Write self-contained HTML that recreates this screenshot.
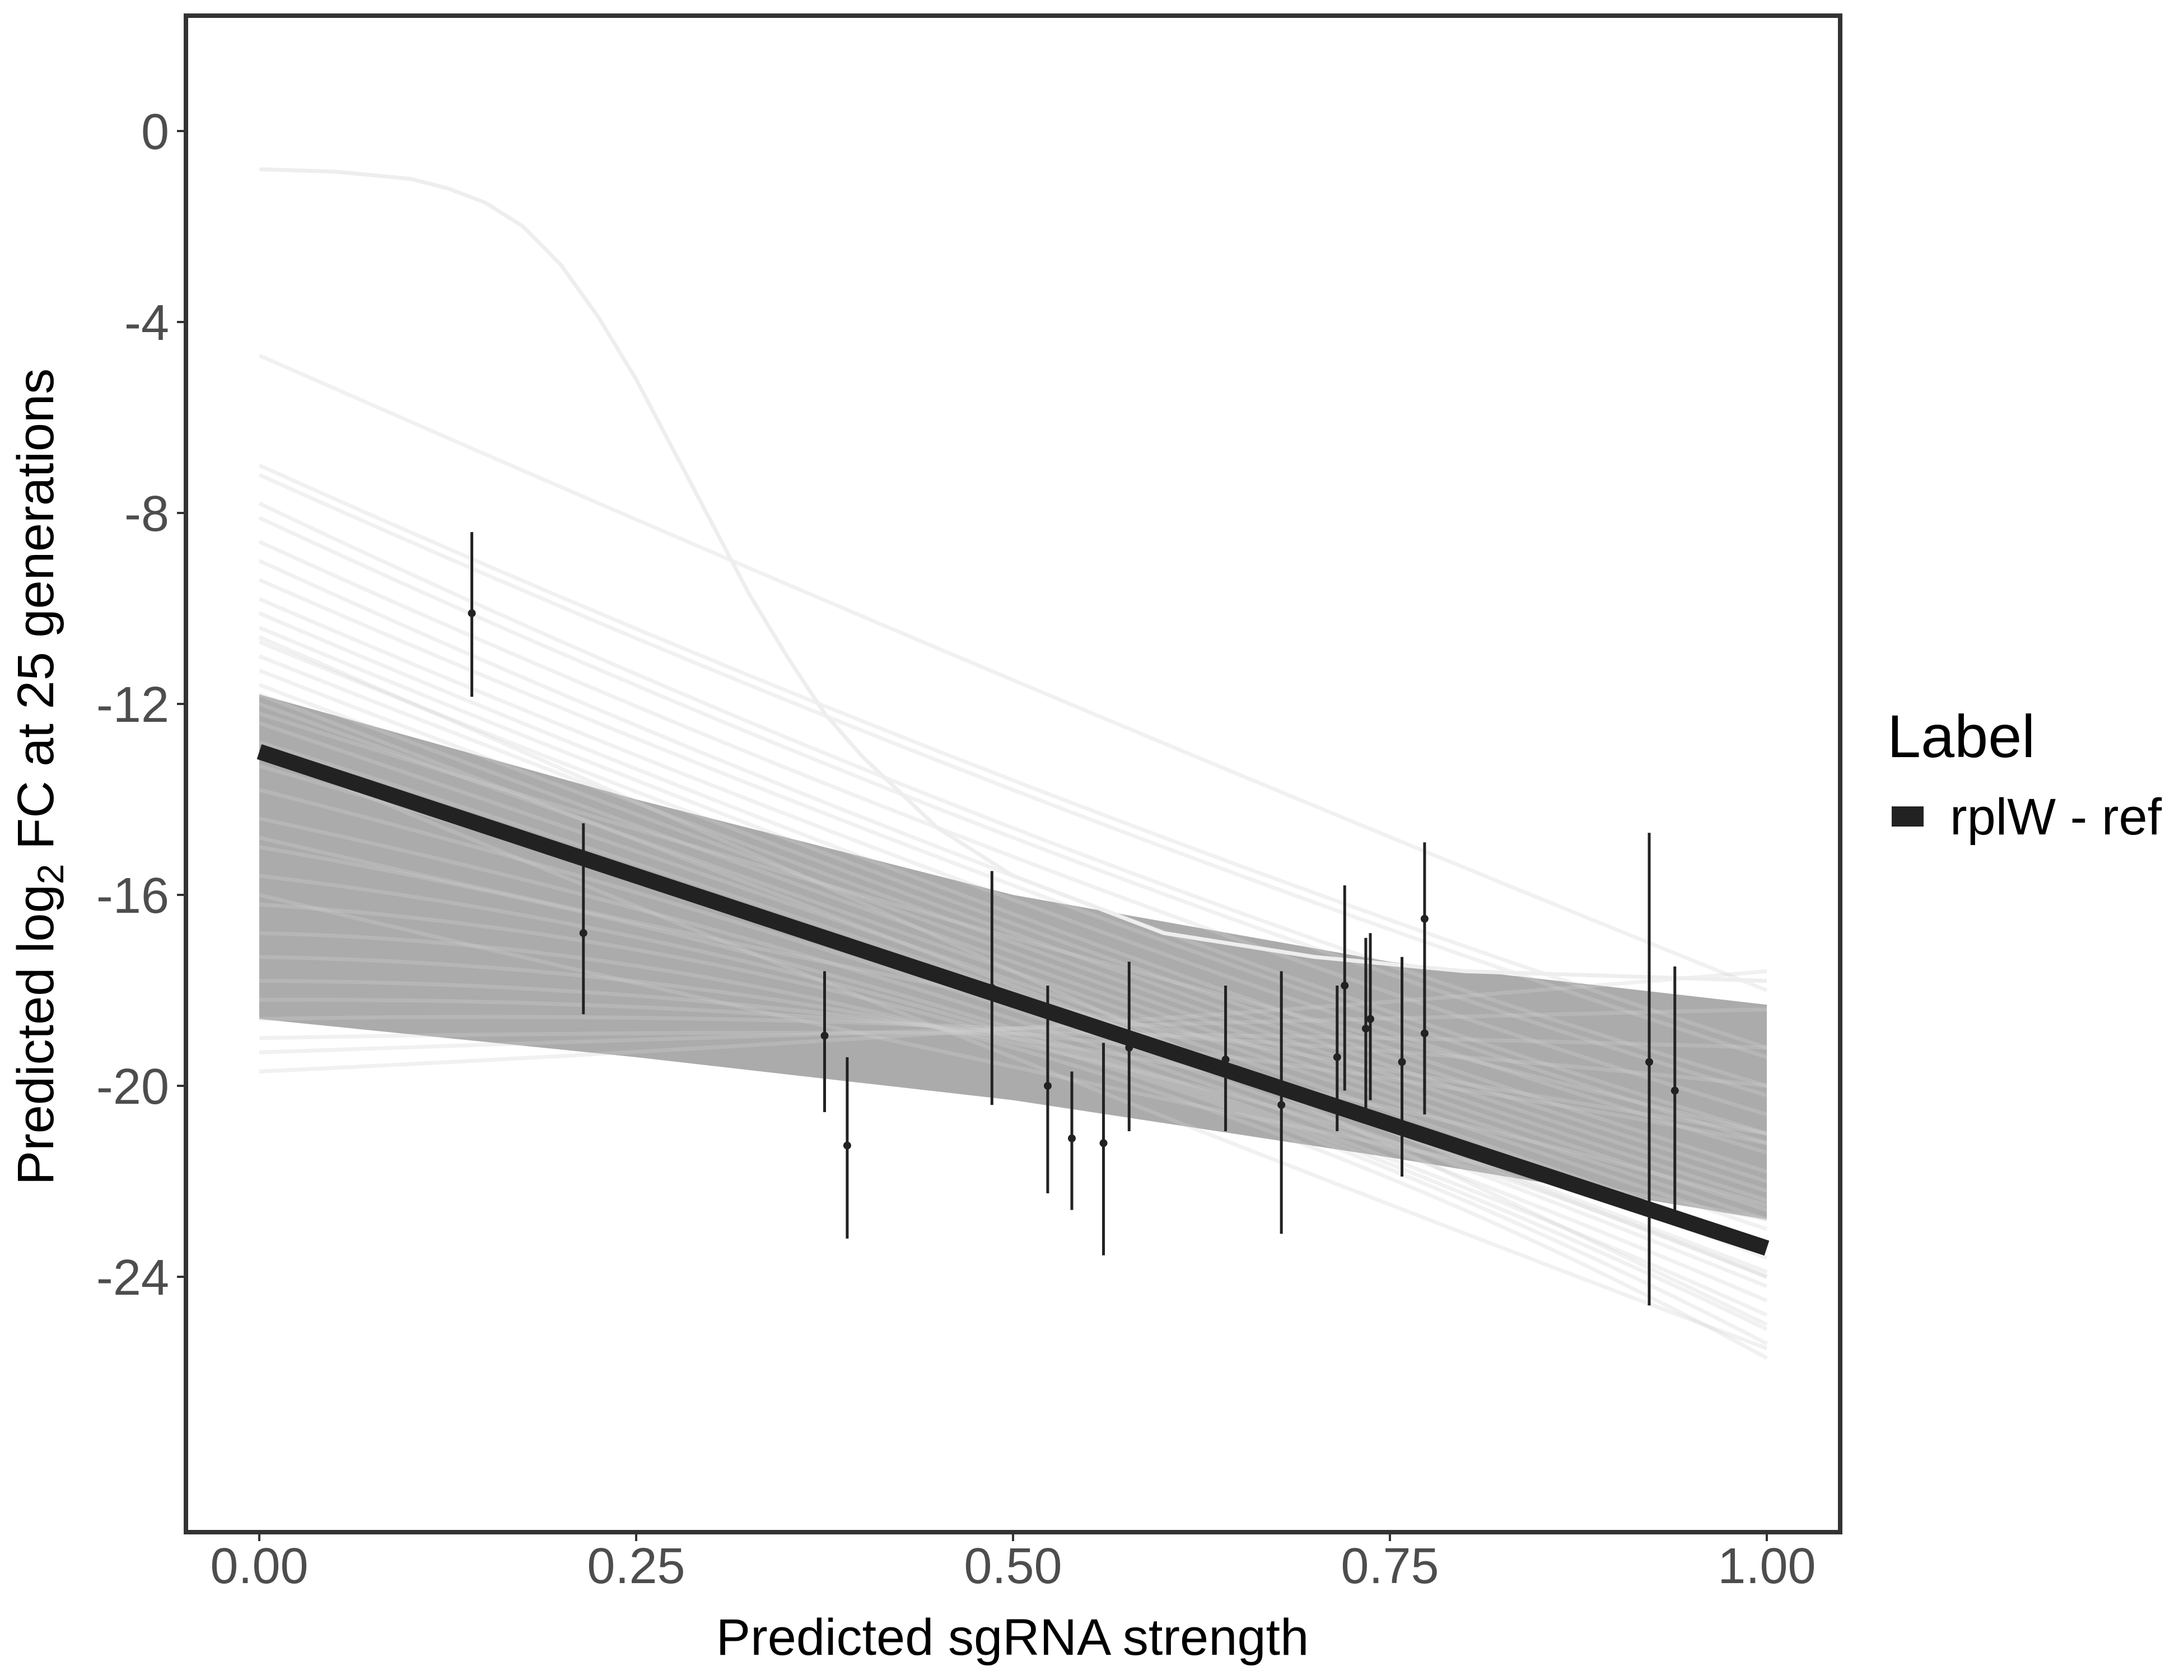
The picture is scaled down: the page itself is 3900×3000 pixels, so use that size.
<!DOCTYPE html>
<html><head><meta charset="utf-8"><style>
html,body{margin:0;padding:0;background:#fff;}
svg{display:block;font-family:"Liberation Sans",sans-serif;}
</style></head><body>
<svg id="chart" width="3900" height="3000" viewBox="0 0 3900 3000" xmlns="http://www.w3.org/2000/svg">
<rect x="0" y="0" width="3900" height="3000" fill="#fff"/>
<defs><clipPath id="pc"><rect x="336" y="32" width="2946" height="2700"/></clipPath></defs>
<g id="draws" clip-path="url(#pc)"></g>
<g id="main"></g>
<g id="pts"></g>
<rect x="332" y="28" width="2954" height="2708" fill="none" stroke="#333" stroke-width="8"/>
<g id="axes"></g>
<text x="1808" y="2955" font-size="92" text-anchor="middle" fill="#000">Predicted sgRNA strength</text>
<text transform="translate(95,1387) rotate(-90)" font-size="92" text-anchor="middle" fill="#000">Predicted  log<tspan font-size="66" dy="18">2</tspan><tspan dy="-18"> FC at 25 generations</tspan></text>
<text x="3370" y="1352" font-size="108" fill="#000">Label</text>
<rect x="3378" y="1440" width="57" height="36" fill="#222"/>
<text x="3482" y="1490" font-size="92" fill="#000">rplW - ref</text>
</svg>
<script>
const xTicks=[0,0.25,0.5,0.75,1];
const xTickLabels=["0.00","0.25","0.50","0.75","1.00"];
const yTicks=[0,-4,-8,-12,-16,-20,-24];
const yTickLabels=["0","-4","-8","-12","-16","-20","-24"];
const fitX=[0,0.25,0.5,0.75,1];
const fitY=[-13.0,-15.6,-18.2,-20.8,-23.4];
const ptX=[0.141,0.215,0.375,0.390,0.486,0.523,0.539,0.560,0.577,0.641,0.678,0.715,0.720,0.734,0.737,0.758,0.773,0.773,0.922,0.939];
const ptY=[-10.1,-16.8,-18.95,-21.25,-17.95,-20.0,-21.1,-21.2,-19.2,-19.45,-20.4,-19.4,-17.9,-18.8,-18.6,-19.5,-16.5,-18.9,-19.5,-20.1];
const ptLo=[-11.85,-18.5,-20.55,-23.2,-20.4,-22.25,-22.6,-23.55,-20.95,-20.95,-23.1,-20.95,-20.1,-20.6,-20.3,-21.9,-20.6,-20.2,-24.6,-22.6];
const ptHi=[-8.4,-14.5,-17.6,-19.4,-15.5,-17.9,-19.7,-19.1,-17.4,-17.9,-17.6,-17.9,-15.8,-16.9,-16.8,-17.3,-14.9,-17.6,-14.7,-17.5];
const bandX=[0,0.25,0.5,0.75,1];
const bandUpper=[-11.8,-14.0,-16.0,-17.4,-18.3];
const bandLower=[-18.6,-19.4,-20.3,-21.5,-22.8];
const drawStart=[-4.7,-7.0,-7.2,-7.8,-8.1,-8.6,-9.0,-9.4,-9.8,-10.1,-10.4,-10.7,-11.0,-11.3,-11.6,-12.0,-12.4,-12.8,-13.3,-13.8,-14.4,-15.0,-15.6,-16.2,-16.8,-17.3,-17.8,-18.2,-18.6,-19.0,-19.3,-19.7,-12.2,-11.8,-14.8,-16.0,-10.6,-13.0];
const drawMid=[-11.5,-13.6,-13.8,-14.6,-14.8,-15.2,-15.6,-15.8,-16.1,-16.4,-16.6,-16.8,-17.0,-17.2,-17.4,-17.6,-17.8,-18.0,-18.2,-18.4,-18.6,-18.8,-18.9,-19.0,-19.2,-19.1,-19.0,-18.9,-18.8,-18.9,-18.8,-18.8,-16.9,-17.9,-18.2,-19.6,-17.6,-19.4];
const drawEnd=[-18.0,-19.2,-19.4,-20.0,-20.2,-20.6,-21.0,-21.2,-21.4,-21.8,-22.0,-22.2,-22.4,-22.6,-22.8,-23.0,-23.3,-23.6,-23.9,-24.2,-24.5,-24.8,-25.1,-25.4,-25.7,-24.0,-22.5,-21.2,-20.0,-19.2,-18.4,-17.6,-21.0,-24.0,-21.0,-22.8,-25.0,-25.5];
const sigX=[0,0.05,0.1,0.125,0.15,0.175,0.2,0.225,0.25,0.275,0.3,0.325,0.35,0.375,0.4,0.45,0.5,0.6,0.7,0.8,0.9,1];
const sigY=[-0.8,-0.85,-1.0,-1.2,-1.5,-2.0,-2.8,-3.9,-5.2,-6.7,-8.2,-9.7,-11.0,-12.2,-13.1,-14.6,-15.6,-16.8,-17.3,-17.6,-17.7,-17.8];

const X0=463,X1=3155,Y0=234,YS=85.25;
function sx(v){return X0+(X1-X0)*v;}
function sy(v){return Y0-YS*v;}
const NS="http://www.w3.org/2000/svg";
function mk(tag,attrs,parent){const e=document.createElementNS(NS,tag);for(const k in attrs)e.setAttribute(k,attrs[k]);parent.appendChild(e);return e;}
const draws=document.getElementById('draws');
let d="M"+bandX.map((x,i)=>sx(x)+","+sy(bandUpper[i])).join(" L");
for(let i=bandX.length-1;i>=0;i--)d+=" L"+sx(bandX[i])+","+sy(bandLower[i]);
d+=" Z";
const band=mk('path',{d:d,fill:'#ababab'},draws);


for(let i=0;i<drawStart.length;i++){
  const p=mk('path',{d:"M"+sx(0)+","+sy(drawStart[i])+" Q"+sx(0.5)+","+sy(2*drawMid[i]-(drawStart[i]+drawEnd[i])/2)+" "+sx(1)+","+sy(drawEnd[i]),fill:'none',stroke:'#d0d0d0','stroke-opacity':0.3,'stroke-width':7},draws);
  
  
}
const sg=mk('polyline',{points:sigX.map((x,i)=>sx(x)+","+sy(sigY[i])).join(" "),fill:'none',stroke:'#eeeeee','stroke-width':7,'stroke-linejoin':'round'},draws);


const main=document.getElementById('main');
const ml=mk('polyline',{points:fitX.map((x,i)=>sx(x)+","+sy(fitY[i])).join(" "),fill:'none',stroke:'#222','stroke-width':28},main);


const pts=document.getElementById('pts');
for(let i=0;i<ptX.length;i++){
  const l=mk('line',{x1:sx(ptX[i]),x2:sx(ptX[i]),y1:sy(ptHi[i]),y2:sy(ptLo[i]),stroke:'#222','stroke-width':5},pts);
  
  
  const c=mk('circle',{cx:sx(ptX[i]),cy:sy(ptY[i]),r:7,fill:'#222'},pts);
  
  
}
const axes=document.getElementById('axes');
xTicks.forEach((t,i)=>{
  const tk=mk('line',{x1:sx(t),x2:sx(t),y1:2740,y2:2752,stroke:'#333','stroke-width':4},axes);
  
  
  const tx=mk('text',{x:sx(t),y:2827,'font-size':90,fill:'#4d4d4d','text-anchor':'middle'},axes);
  tx.textContent=xTickLabels[i];
  
  
});
yTicks.forEach((t,i)=>{
  const tk=mk('line',{x1:316,x2:328,y1:sy(t),y2:sy(t),stroke:'#333','stroke-width':4},axes);
  
  
  const tx=mk('text',{x:302,y:sy(t)+32,'font-size':90,fill:'#4d4d4d','text-anchor':'end'},axes);
  tx.textContent=yTickLabels[i];
  
  
});
</script>
</body></html>
